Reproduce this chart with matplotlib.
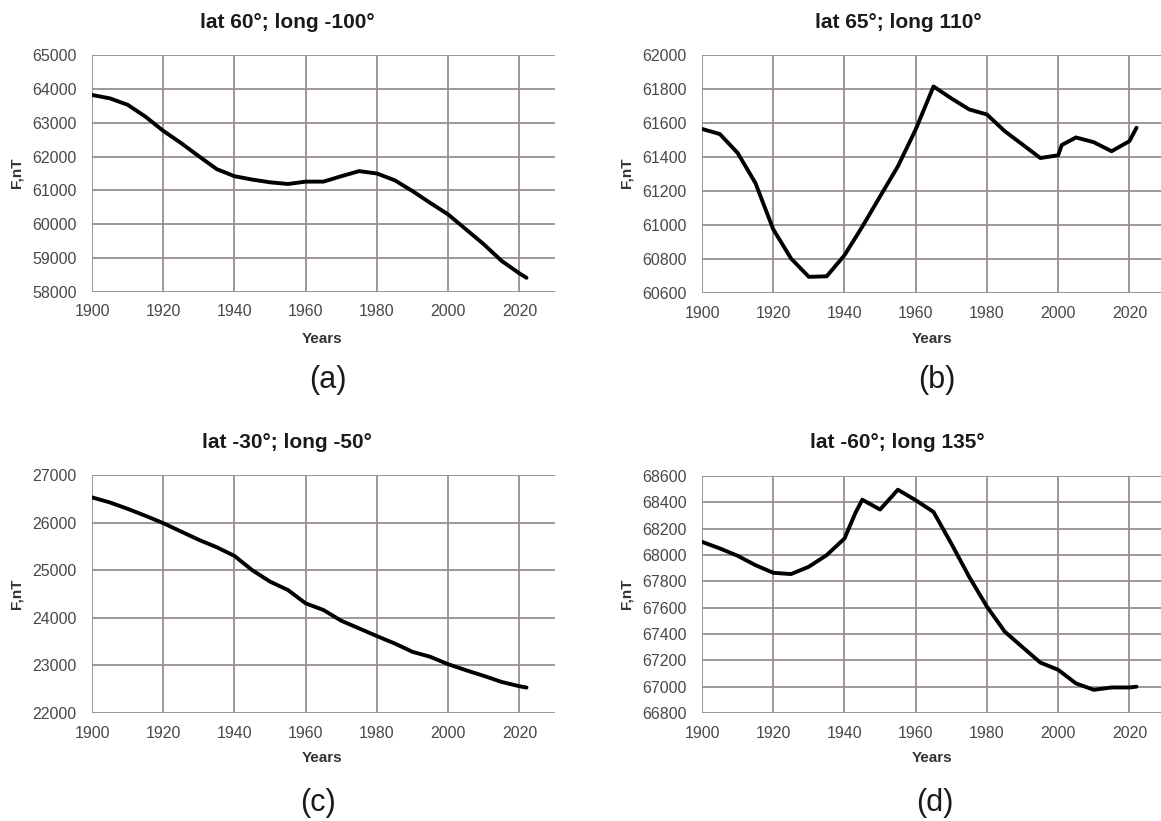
import matplotlib
matplotlib.use("Agg")
import matplotlib.pyplot as plt

plt.rcParams['font.family'] = ['Liberation Sans', 'DejaVu Sans']

# ---------------- data ----------------
years_a = [1900, 1905, 1910, 1915, 1920, 1925, 1930, 1935, 1940, 1945, 1950, 1955,
           1960, 1965, 1970, 1975, 1980, 1985, 1990, 1995, 2000, 2005, 2010, 2015, 2020, 2022]
f_a = [63820, 63720, 63530, 63180, 62760, 62400, 62010, 61630, 61420, 61320, 61240, 61190,
       61260, 61260, 61420, 61570, 61500, 61300, 60980, 60630, 60290, 59850, 59410, 58920, 58550, 58420]

years_b = [1900, 1905, 1910, 1915, 1920, 1925, 1930, 1935, 1940, 1945, 1950, 1955, 1960,
           1965, 1970, 1975, 1980, 1985, 1990, 1995, 2000, 2001, 2005, 2010, 2015, 2020, 2022]
f_b = [61565, 61535, 61424, 61247, 60975, 60803, 60695, 60698, 60822, 60990, 61168, 61345, 61562,
       61815, 61745, 61680, 61650, 61552, 61473, 61394, 61410, 61470, 61515, 61487, 61434, 61493, 61572]

years_c = [1900, 1905, 1910, 1915, 1920, 1925, 1930, 1935, 1940, 1945, 1950, 1955,
           1960, 1965, 1970, 1975, 1980, 1985, 1990, 1995, 2000, 2005, 2010, 2015, 2020, 2022]
f_c = [26530, 26424, 26290, 26143, 25989, 25813, 25638, 25483, 25300, 25000, 24760, 24584,
       24303, 24163, 23938, 23777, 23615, 23460, 23285, 23180, 23025, 22899, 22780, 22653, 22562, 22534]

years_d = [1900, 1905, 1910, 1915, 1920, 1925, 1930, 1935, 1940, 1943, 1945, 1950, 1955,
           1960, 1965, 1970, 1975, 1980, 1985, 1990, 1995, 2000, 2005, 2010, 2015, 2020, 2022]
f_d = [68100, 68050, 67994, 67923, 67865, 67855, 67911, 67999, 68125, 68315, 68420, 68345, 68496,
       68416, 68327, 68087, 67835, 67608, 67418, 67300, 67183, 67128, 67025, 66976, 66994, 66994, 67000]

titles = ["lat 60°; long -100°", "lat 65°; long 110°", "lat -30°; long -50°", "lat -60°; long 135°"]
panel_labels = ["(a)", "(b)", "(c)", "(d)"]
x_ticks = [1900, 1920, 1940, 1960, 1980, 2000, 2020]
y_ticks_a = [58000, 59000, 60000, 61000, 62000, 63000, 64000, 65000]
y_ticks_b = [60600, 60800, 61000, 61200, 61400, 61600, 61800, 62000]
y_ticks_c = [22000, 23000, 24000, 25000, 26000, 27000]
y_ticks_d = [66800, 67000, 67200, 67400, 67600, 67800, 68000, 68200, 68400, 68600]

# ---------------- layout ----------------
W, H = 1161, 821
fig = plt.figure(figsize=(W / 100, H / 100), dpi=100)
fig.patch.set_facecolor('white')

def rect(left, top, right, bottom):
    return [left / W, 1 - bottom / H, (right - left) / W, (bottom - top) / H]

panels = [
    dict(r=rect(92, 55, 555, 292), x=years_a, y=f_a, yt=y_ticks_a,
         title=(287, 22), years=(322, 339), lab=(328, 380), ylab=(17, 173)),
    dict(r=rect(702, 55, 1165, 293), x=years_b, y=f_b, yt=y_ticks_b,
         title=(898, 22), years=(932, 339), lab=(937, 380), ylab=(626, 173)),
    dict(r=rect(92, 475, 555, 713), x=years_c, y=f_c, yt=y_ticks_c,
         title=(287, 442), years=(322, 758), lab=(318, 803), ylab=(17, 594)),
    dict(r=rect(702, 476, 1165, 713), x=years_d, y=f_d, yt=y_ticks_d,
         title=(897, 442), years=(932, 758), lab=(935, 803), ylab=(626, 594)),
]

grid_color = '#978f8f'
tick_color = '#484848'

def fx(px):
    return px / W

def fy(py):
    return 1 - py / H

for i, p in enumerate(panels):
    ax = fig.add_axes(p['r'])
    ax.plot(p['x'], p['y'], color='black', lw=2.8, solid_capstyle='round',
            solid_joinstyle='round', zorder=3)
    ax.set_xlim(1900, 2030)
    ax.set_ylim(p['yt'][0], p['yt'][-1])
    ax.set_xticks(x_ticks)
    ax.set_yticks(p['yt'])
    ax.grid(True, color=grid_color, lw=1.3)
    ax.set_axisbelow(True)
    for s in ax.spines.values():
        s.set_visible(False)
    ax.tick_params(length=0, labelsize=11.5, labelcolor=tick_color)
    ax.tick_params(axis='y', pad=11)
    ax.tick_params(axis='x', pad=9)

    fig.text(fx(p['title'][0]), fy(p['title'][1]), titles[i], ha='center', va='center',
             fontsize=15, fontweight='bold', color='#1a1a1a')
    fig.text(fx(p['years'][0]), fy(p['years'][1]), "Years", ha='center', va='center',
             fontsize=11, fontweight='bold', color='#333333')
    fig.text(fx(p['ylab'][0]), fy(p['ylab'][1]), "F,nT", ha='center', va='center',
             rotation=90, fontsize=11, fontweight='bold', color='#333333')
    fig.text(fx(p['lab'][0]), fy(p['lab'][1]), panel_labels[i], ha='center', va='center',
             fontsize=22, color='#1a1a1a')

fig.savefig("out.png", dpi=100, facecolor='white')
